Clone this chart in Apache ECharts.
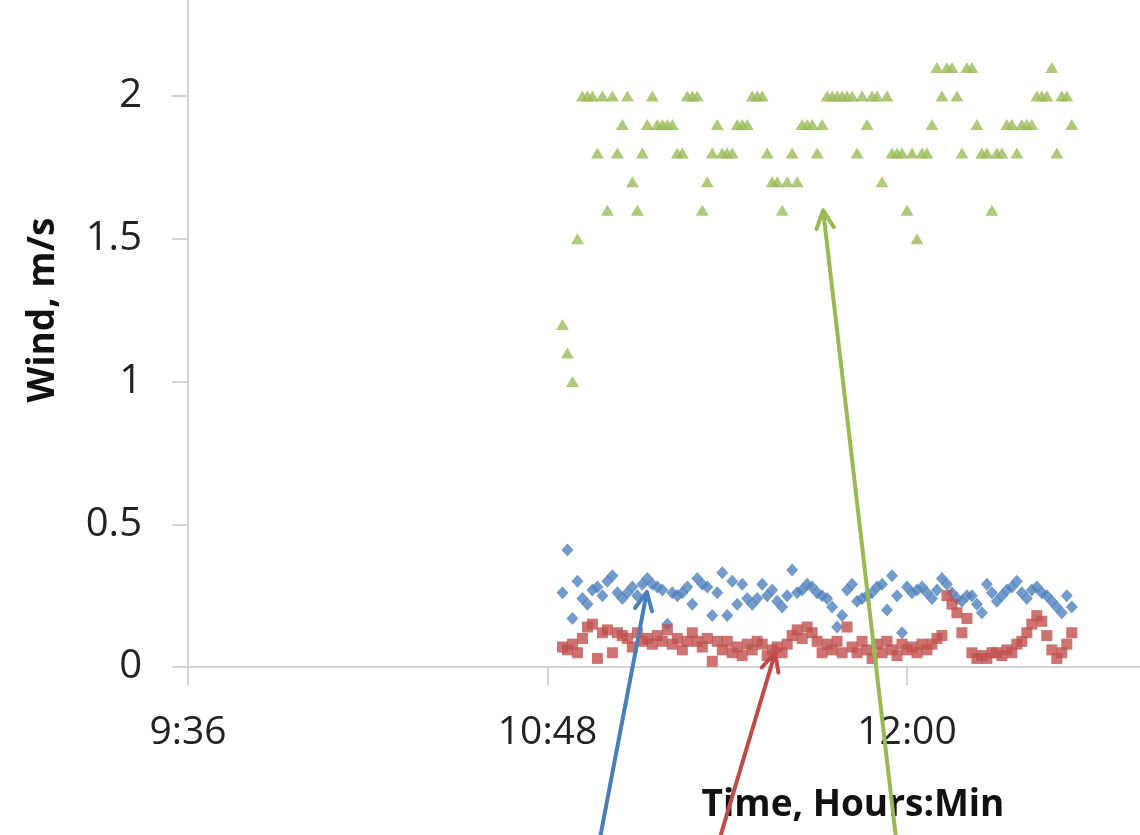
<!DOCTYPE html>
<html><head><meta charset="utf-8">
<script src="https://cdn.jsdelivr.net/npm/echarts@6/dist/echarts.min.js"></script>
<style>html,body{margin:0;padding:0;background:#fff}#c{width:1140px;height:835px}</style>
</head><body><div id="c"></div>
<script>
// Time stamps (Hours:Min)
const times = [
 "10:51","10:52","10:53","10:54","10:55","10:56","10:57","10:58","10:59",
 "11:00","11:01","11:02","11:03","11:04","11:05","11:06","11:07","11:08","11:09",
 "11:10","11:11","11:12","11:13","11:14","11:15","11:16","11:17","11:18","11:19",
 "11:20","11:21","11:22","11:23","11:24","11:25","11:26","11:27","11:28","11:29",
 "11:30","11:31","11:32","11:33","11:34","11:35","11:36","11:37","11:38","11:39",
 "11:40","11:41","11:42","11:43","11:44","11:45","11:46","11:47","11:48","11:49",
 "11:50","11:51","11:52","11:53","11:54","11:55","11:56","11:57","11:58","11:59",
 "12:00","12:01","12:02","12:03","12:04","12:05","12:06","12:07","12:08","12:09",
 "12:10","12:11","12:12","12:13","12:14","12:15","12:16","12:17","12:18","12:19",
 "12:20","12:21","12:22","12:23","12:24","12:25","12:26","12:27","12:28","12:29",
 "12:30","12:31","12:32","12:33"
];
// Blue diamonds
const windBlue = [
 0.26,0.41,0.17,0.30,0.24,0.22,0.27,0.28,0.25,0.30,
 0.32,0.26,0.24,0.26,0.28,0.25,0.29,0.31,0.29,0.28,
 0.27,0.15,0.26,0.25,0.26,0.28,0.22,0.31,0.29,0.28,
 0.18,0.26,0.33,0.18,0.30,0.22,0.29,0.24,0.22,0.24,
 0.29,0.25,0.27,0.23,0.21,0.25,0.34,0.26,0.27,0.29,
 0.28,0.26,0.25,0.24,0.21,0.14,0.18,0.27,0.29,0.23,
 0.24,0.25,0.26,0.28,0.29,0.20,0.32,0.25,0.12,0.28,
 0.26,0.27,0.28,0.26,0.24,0.27,0.31,0.29,0.26,0.24,
 0.23,0.25,0.25,0.22,0.19,0.29,0.26,0.23,0.25,0.27,
 0.28,0.30,0.26,0.24,0.27,0.28,0.26,0.25,0.23,0.21,
 0.19,0.25,0.21
];
// Red squares
const windRed = [
 0.07,0.06,0.08,0.05,0.10,0.14,0.15,0.03,0.12,0.13,
 0.05,0.12,0.11,0.10,0.07,0.12,0.09,0.10,0.08,0.11,
 0.09,0.13,0.08,0.10,0.06,0.09,0.12,0.09,0.07,0.10,
 0.02,0.09,0.06,0.09,0.05,0.07,0.04,0.08,0.06,0.09,
 0.08,0.04,0.06,0.07,0.05,0.08,0.11,0.13,0.10,0.14,
 0.12,0.09,0.05,0.08,0.06,0.09,0.05,0.14,0.07,0.05,
 0.09,0.06,0.03,0.08,0.05,0.09,0.06,0.04,0.08,0.06,
 0.07,0.05,0.08,0.06,0.08,0.10,0.11,0.25,0.22,0.19,
 0.12,0.17,0.05,0.03,0.04,0.03,0.05,0.05,0.04,0.06,
 0.05,0.08,0.09,0.12,0.15,0.18,0.16,0.11,0.06,0.03,
 0.05,0.08,0.12
];
// Green triangles
const windGreen = [
 1.2,1.1,1.0,1.5,2.0,2.0,2.0,1.8,2.0,1.6,
 2.0,1.8,1.9,2.0,1.7,1.6,1.8,1.9,2.0,1.9,
 1.9,1.9,1.9,1.8,1.8,2.0,2.0,2.0,1.6,1.7,
 1.8,1.9,1.8,1.8,1.8,1.9,1.9,1.9,2.0,2.0,
 2.0,1.8,1.7,1.7,1.6,1.7,1.8,1.7,1.9,1.9,
 1.9,1.8,1.9,2.0,2.0,2.0,2.0,2.0,2.0,1.8,
 2.0,1.9,2.0,2.0,1.7,2.0,1.8,1.8,1.8,1.6,
 1.8,1.5,1.8,1.8,1.9,2.1,2.0,2.1,2.1,2.0,
 1.8,2.1,2.1,1.9,1.8,1.8,1.6,1.8,1.8,1.9,
 1.9,1.8,1.9,1.9,1.9,2.0,2.0,2.0,2.1,1.8,
 2.0,2.0,1.9
];
// Axis tick labels
const xTickLabels = ["9:36","10:48","12:00"];
const yTickLabels = ["0","0.5","1","1.5","2"];
// Annotation arrows: [tail time, tail value] -> [tip time, tip value]
const arrowTails = [["10:58.5",-0.6],["11:22.5",-0.6],["11:57.8",-0.6]];
const arrowTips  = [["11:07.9",0.263],["11:33.6",0.05],["11:43.2",1.60]];
const arrowColors = ['#4a7ebb','#be4b48','#98b954'];

function toMin(s){const p=s.split(':');return (+p[0])*60+parseFloat(p[1]);}
function fmt(v){const h=Math.floor(v/60);const m=Math.round(v-h*60);return h+':'+(m<10?'0':'')+m;}
const xs = times.map(toMin);
const pts = arr => arr.map((v,i)=>[xs[i],v]);

const chart = echarts.init(document.getElementById('c'));
const FONT = '"Open Sans", "Liberation Sans", sans-serif';
chart.setOption({
  animation:false,
  backgroundColor:'#fff',
  grid:{left:188, top:-46.75, width:1078.5, height:713.75, containLabel:false, outerBoundsMode:'none'},
  xAxis:{
    type:'value', min:576, max:792, interval:72,
    axisLine:{show:true, lineStyle:{color:'#d4d4d4', width:2}},
    axisTick:{show:true, inside:false, length:18, lineStyle:{color:'#d4d4d4', width:2}},
    splitLine:{show:false},
    axisLabel:{margin:46, fontSize:39, color:'#222', fontFamily:FONT,
      formatter:v=>{const s=fmt(v);return xTickLabels.indexOf(s)>=0?s:'';}}
  },
  yAxis:{
    type:'value', min:0, max:2.5, interval:0.5,
    axisLine:{show:true, lineStyle:{color:'#d4d4d4', width:2}},
    axisTick:{show:true, inside:false, length:16, lineStyle:{color:'#d4d4d4', width:2}},
    splitLine:{show:false},
    axisLabel:{margin:46, fontSize:40, color:'#222', fontFamily:FONT,
      formatter:v=>{const s=String(v);return yTickLabels.indexOf(s)>=0?s:'';}},
    name:'Wind, m/s', nameLocation:'middle', nameGap:126, nameRotate:90,
    nameTextStyle:{fontSize:37, fontWeight:'bold', color:'#111', fontFamily:FONT}
  },
  series:[
    {name:'Blue', type:'scatter', data:pts(windBlue), symbol:'diamond', symbolSize:[12,13],
     itemStyle:{color:'#4f81bd'}},
    {name:'Red', type:'scatter', data:pts(windRed), symbol:'rect', symbolSize:[11,11],
     itemStyle:{color:'#c0504d'}},
    {name:'Green', type:'scatter', data:pts(windGreen), symbol:'triangle', symbolSize:[13,11],
     itemStyle:{color:'#9bbb59'}}
  ]
});

const g = [{type:'text', x:853, y:805, style:{text:'Time, Hours:Min', fontSize:37, fontWeight:'bold',
  fill:'#111', fontFamily:FONT, align:'center', verticalAlign:'middle'}}];
arrowTails.forEach((t,i)=>{
  const a = chart.convertToPixel({gridIndex:0},[toMin(t[0]),t[1]]);
  const b = chart.convertToPixel({gridIndex:0},[toMin(arrowTips[i][0]),arrowTips[i][1]]);
  const dx=b[0]-a[0], dy=b[1]-a[1], L=Math.hypot(dx,dy), ux=dx/L, uy=dy/L;
  const hl=20, ang=0.45;
  const p1=[b[0]-hl*(ux*Math.cos(ang)-uy*Math.sin(ang)), b[1]-hl*(uy*Math.cos(ang)+ux*Math.sin(ang))];
  const p2=[b[0]-hl*(ux*Math.cos(-ang)-uy*Math.sin(-ang)), b[1]-hl*(uy*Math.cos(-ang)+ux*Math.sin(-ang))];
  g.push({type:'line', shape:{x1:a[0],y1:a[1],x2:b[0],y2:b[1]}, style:{stroke:arrowColors[i], lineWidth:4}, z:100});
  g.push({type:'polyline', shape:{points:[p1,b,p2]}, style:{stroke:arrowColors[i], lineWidth:4, fill:null, lineCap:'round', lineJoin:'round'}, z:100});
});
chart.setOption({graphic:g});
</script></body></html>
